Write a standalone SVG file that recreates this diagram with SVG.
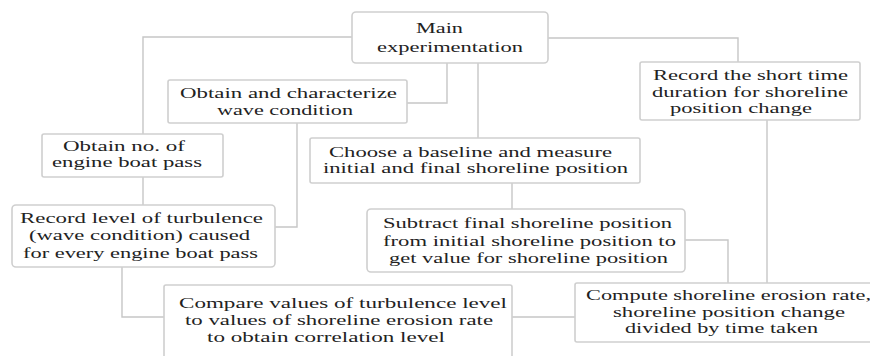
<svg xmlns="http://www.w3.org/2000/svg" width="870" height="356" viewBox="0 0 870 356">
<style>
.box{fill:#ffffff;stroke:#cfcfcf;stroke-width:1.6}
.t{font-family:'Liberation Serif','DejaVu Serif',serif;font-size:15px;fill:#222222}
.c{fill:none;stroke:#c6c6c6;stroke-width:1.4}
</style>
<rect x="0" y="0" width="870" height="356" fill="#ffffff"/>
<g id="connectors">
<path class="c" d="M352,37 H143 V134"/>
<path class="c" d="M447,63 V103 H407"/>
<path class="c" d="M478,63 V138"/>
<path class="c" d="M548,38 H738 V62"/>
<path class="c" d="M143,177 V205"/>
<path class="c" d="M297,123 V227 H275"/>
<path class="c" d="M512,183 V209"/>
<path class="c" d="M767,120 V283"/>
<path class="c" d="M685,240 H728 V283"/>
<path class="c" d="M122,267 V317 H164"/>
<path class="c" d="M512,317 H575"/>
</g>
<g id="main">
<rect class="box" x="352" y="12" width="196" height="51" rx="4"/>
<text class="t" x="416" y="33" textLength="47" lengthAdjust="spacingAndGlyphs">Main</text>
<text class="t" x="377" y="52" textLength="146" lengthAdjust="spacingAndGlyphs">experimentation</text>
</g>
<g id="wave">
<rect class="box" x="168" y="80" width="239" height="43" rx="2"/>
<text class="t" x="180" y="98" textLength="217" lengthAdjust="spacingAndGlyphs">Obtain and characterize</text>
<text class="t" x="217" y="115" textLength="136" lengthAdjust="spacingAndGlyphs">wave condition</text>
</g>
<g id="boatpass">
<rect class="box" x="42" y="134" width="181" height="43" rx="2"/>
<text class="t" x="63" y="151" textLength="122" lengthAdjust="spacingAndGlyphs">Obtain no. of</text>
<text class="t" x="52" y="167" textLength="150" lengthAdjust="spacingAndGlyphs">engine boat pass</text>
</g>
<g id="baseline">
<rect class="box" x="310" y="138" width="330" height="45" rx="2"/>
<text class="t" x="329" y="157" textLength="283" lengthAdjust="spacingAndGlyphs">Choose a baseline and measure</text>
<text class="t" x="323" y="173" textLength="305" lengthAdjust="spacingAndGlyphs">initial and final shoreline position</text>
</g>
<g id="shorttime">
<rect class="box" x="640" y="62" width="220" height="58" rx="2"/>
<text class="t" x="653" y="80" textLength="195" lengthAdjust="spacingAndGlyphs">Record the short time</text>
<text class="t" x="652" y="97" textLength="196" lengthAdjust="spacingAndGlyphs">duration for shoreline</text>
<text class="t" x="670" y="113" textLength="142" lengthAdjust="spacingAndGlyphs">position change</text>
</g>
<g id="turbulence">
<rect class="box" x="12" y="205" width="263" height="62" rx="4"/>
<text class="t" x="20" y="223" textLength="243" lengthAdjust="spacingAndGlyphs">Record level  of turbulence</text>
<text class="t" x="29" y="240" textLength="221" lengthAdjust="spacingAndGlyphs">(wave condition) caused</text>
<text class="t" x="23" y="258" textLength="235" lengthAdjust="spacingAndGlyphs">for every engine boat pass</text>
</g>
<g id="subtract">
<rect class="box" x="367" y="209" width="318" height="63" rx="4"/>
<text class="t" x="383" y="228" textLength="289" lengthAdjust="spacingAndGlyphs">Subtract final shoreline position</text>
<text class="t" x="383" y="246" textLength="293" lengthAdjust="spacingAndGlyphs">from initial shoreline position to</text>
<text class="t" x="389" y="263" textLength="279" lengthAdjust="spacingAndGlyphs">get value for shoreline position</text>
</g>
<g id="compare">
<rect class="box" x="164" y="285" width="348" height="80" rx="2"/>
<text class="t" x="179" y="308" textLength="328" lengthAdjust="spacingAndGlyphs">Compare values of turbulence level</text>
<text class="t" x="185" y="325" textLength="308" lengthAdjust="spacingAndGlyphs">to values of shoreline erosion rate</text>
<text class="t" x="207" y="342" textLength="238" lengthAdjust="spacingAndGlyphs">to obtain correlation level</text>
</g>
<g id="erosion">
<rect class="box" x="575" y="283" width="300" height="59" rx="2"/>
<text class="t" x="586" y="300" textLength="285" lengthAdjust="spacingAndGlyphs">Compute shoreline erosion rate,</text>
<text class="t" x="613" y="317" textLength="232" lengthAdjust="spacingAndGlyphs">shoreline position change</text>
<text class="t" x="625" y="333" textLength="193" lengthAdjust="spacingAndGlyphs">divided by time taken</text>
</g>
</svg>
